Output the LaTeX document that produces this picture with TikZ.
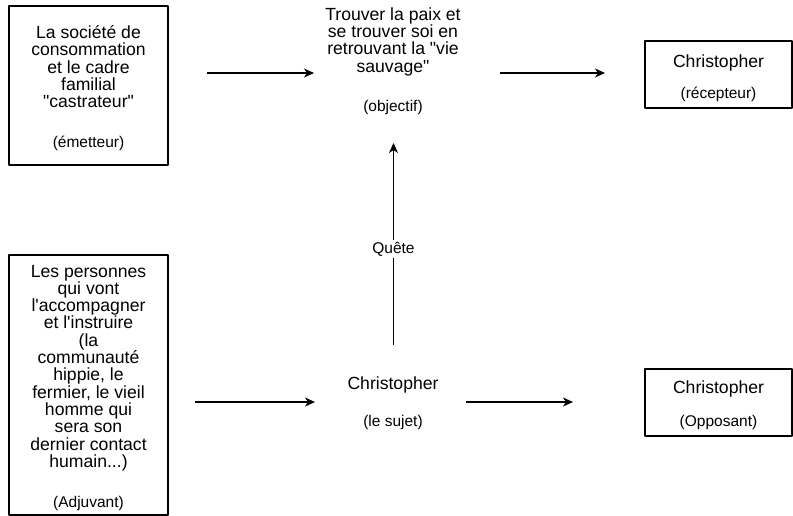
\documentclass[tikz,border=0pt]{standalone}
\usepackage{fontspec}
\setmainfont{Liberation Sans}[Ligatures=TeXOff]
\usetikzlibrary{arrows.meta}
\newcommand{\bigtxt}{\fontsize{17.6}{17.3}\selectfont}
\newcommand{\smalltxt}{\fontsize{15.5}{17.3}\selectfont}
\newcommand{\hautl}{\rule{0pt}{18pt}}
\begin{document}
\begin{tikzpicture}[x=1pt, y=-1pt, line join=round, >={Stealth[length=10pt,width=9pt,inset=3pt]}]

		\tikzset{actant/.style={draw, line width=1.1pt, inner sep=0pt, align=center, font=\bigtxt},
			txt/.style={inner sep=0pt, align=center, font=\bigtxt},
			fleche/.style={->, line width=1.1pt}}

		\useasboundingbox (0,0) rectangle (793,516);

		\node[actant, minimum width=159pt, minimum height=159pt] (emetteur) at (88.5,85.5)
			{\hautl La société de\\consommation\\et le cadre\\familial\\"castrateur"\\[22pt]\smalltxt (émetteur)};
		\node[txt] (objectif) at (393,61)
			{Trouver la paix et\\se trouver soi en\\retrouvant la "vie\\sauvage"\\[22pt]\smalltxt (objectif)};
		\node[actant, minimum width=147pt, minimum height=67pt] (recepteur) at (718.5,74.5)
			{\rule{0pt}{20pt}Christopher\\[14pt]\smalltxt (récepteur)};
		\node[actant, minimum width=159pt, minimum height=260pt] (adjuvant) at (88.5,385)
			{\hautl Les personnes\\qui vont\\l'accompagner\\et l'instruire\\(la\\communauté\\hippie, le\\fermier, le vieil\\homme qui\\sera son\\dernier contact\\humain...)\\[23pt]\smalltxt (Adjuvant)};
		\node[txt] (sujet) at (393,403)
			{Christopher\\[20pt]\smalltxt (le sujet)};
		\node[actant, minimum width=147pt, minimum height=67pt] (opposant) at (718.5,402.5)
			{\hautl Christopher\\[15pt]\smalltxt (Opposant)};

		\coordinate (e1) at (207,73);
		\coordinate (e2) at (314,73);
		\coordinate (e3) at (500,73);
		\coordinate (e4) at (605,73);
		\coordinate (q1) at (393.5,345);
		\coordinate (q2) at (393.5,143);
		\coordinate (s1) at (195,402);
		\coordinate (s2) at (315,402);
		\coordinate (s3) at (466,402);
		\coordinate (s4) at (573,402);

		\draw[fleche] (e1)--(e2);
		\draw[fleche] (e3)--(e4);
		\draw[fleche] (q1)--(q2) node[pos=.475, fill=white, inner sep=2pt, font=\smalltxt] (quete) {Quête};
		\draw[fleche] (s1)--(s2);
		\draw[fleche] (s3)--(s4);
		\end{tikzpicture}
\end{document}
